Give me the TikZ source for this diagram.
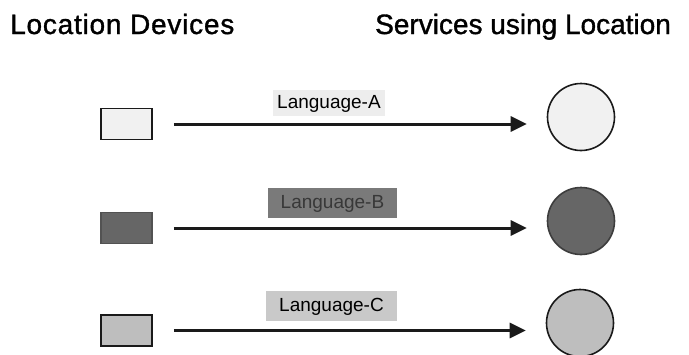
\documentclass[tikz,border=0pt]{standalone}
\usepackage{fontspec}
\setmainfont{Liberation Sans}
\newfontfamily\titlefont[FakeBold=1.2]{Liberation Sans}
\newfontfamily\titlefontwide[FakeBold=1.2,LetterSpace=2.8]{Liberation Sans}
\usetikzlibrary{arrows.meta}
\definecolor{fillA}{HTML}{F1F1F1}
\definecolor{fillB}{HTML}{666666}
\definecolor{fillC}{HTML}{BEBEBE}
\definecolor{labA}{HTML}{EDEDED}
\definecolor{labB}{HTML}{7A7A7A}
\definecolor{labC}{HTML}{C9C9C9}
\definecolor{txtB}{HTML}{383838}
\definecolor{edge}{HTML}{1A1A1A}
\tikzset{
  devbox/.style={draw=edge, line width=1.6pt, minimum width=51pt, minimum height=31pt, inner sep=0pt},
  svc/.style={circle, draw=edge, line width=1.6pt, minimum size=67pt, inner sep=0pt},
  title/.style={anchor=base west, inner sep=0pt},
  lang/.style={font=\fontsize{19}{21}\selectfont, inner sep=0pt, text height=14pt, text depth=4pt},
  conn/.style={draw=edge, line width=3pt, -{Triangle[length=16pt,width=15pt]}, shorten <=21pt, shorten >=20pt}
}
\begin{document}
\begin{tikzpicture}[x=1pt,y=-1pt]
\useasboundingbox (0,0) rectangle (689,354);
\node[title, font=\titlefontwide\fontsize{28}{30}\selectfont] (t1) at (10,34) {Location Devices};
\node[title, font=\titlefont\fontsize{28}{30}\selectfont] (t2) at (375,34) {Services using Location};
% devices
\node[devbox, fill=fillA] (rA) at (126.5,124) {};
\node[devbox, fill=fillB, draw=fillB!80!black] (rB) at (126.5,228) {};
\node[devbox, fill=fillC] (rC) at (126.5,330.5) {};
% services
\node[svc, fill=fillA] (cA) at (581,117) {};
\node[svc, fill=fillB, draw=fillB!60!black] (cB) at (581,221) {};
\node[svc, fill=fillC] (cC) at (580,323) {};
% labels
\node[fill=labA, minimum width=112pt, minimum height=26pt, inner sep=0pt] (bA) at (329,103) {};
\node[lang] (lA) at (bA) {Language-A};
\node[fill=labB, minimum width=129pt, minimum height=30pt, inner sep=0pt] (bB) at (332.5,203) {};
\node[lang, text=txtB] (lB) at (bB) {Language-B};
\node[fill=labC, minimum width=131pt, minimum height=30pt, inner sep=0pt] (bC) at (331.5,306) {};
\node[lang] (lC) at (bC) {Language-C};
% connectors
\draw[conn] (rA.east) -- (rA.east -| cA.west);
\draw[conn] (rB.east) -- (rB.east -| cB.west);
\draw[conn] (rC.east) -- (rC.east -| cC.west);
\end{tikzpicture}
\end{document}
